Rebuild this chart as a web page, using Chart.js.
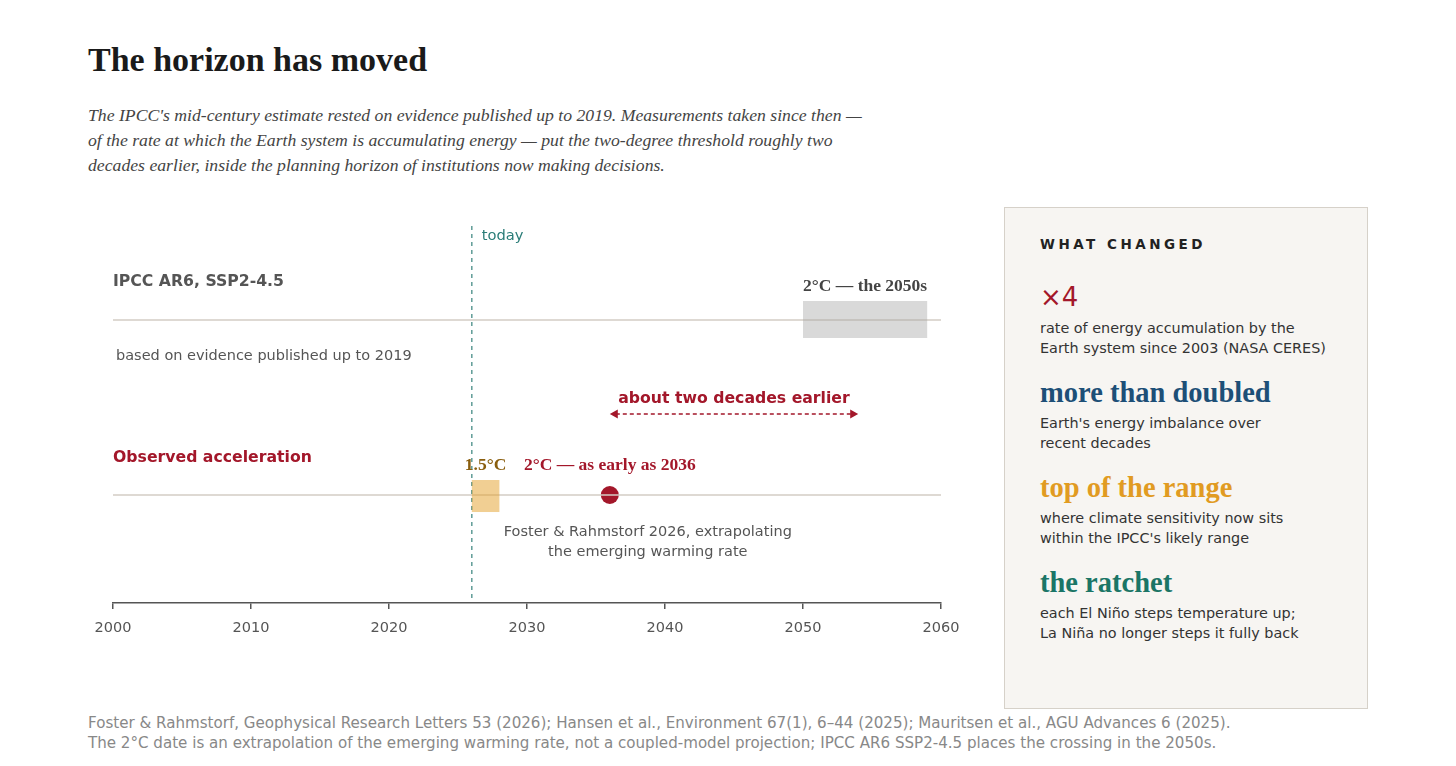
<!DOCTYPE html>
<html>
<head>
<meta charset="utf-8">
<script src="https://cdn.jsdelivr.net/npm/chart.js@4.4.1/dist/chart.umd.min.js"></script>
<style>
  html, body { margin: 0; padding: 0; background: #fff; }
  body { width: 1456px; height: 766px; position: relative; overflow: hidden; font-family: "DejaVu Sans", sans-serif; }
  #title { position: absolute; left: 88px; top: 38px; margin: 0; font: bold 34px "Liberation Serif", serif; color: #1a1a1a; line-height: 44px; }
  #dek { position: absolute; left: 88px; top: 103px; margin: 0; font: italic 17.7px "Liberation Serif", serif; color: #444; line-height: 25px; }
  #chartBox { position: absolute; left: 0; top: 200px; width: 990px; height: 460px; }
  #panel { position: absolute; left: 1004px; top: 207px; width: 364px; height: 502px; box-sizing: border-box;
    background: #f7f5f2; border: 1px solid #d6d1c9; padding: 26px 16px 0 35px; }
  #panel h3 { margin: 0; font: bold 13.5px "DejaVu Sans", sans-serif; letter-spacing: 3.5px; line-height: 20px; color: #222; }
  #panel .big { font: bold 28.5px "Liberation Serif", serif; line-height: 30px; margin-top: 19.5px; }
  #panel .big.first { margin-top: 28px; font: 26px "DejaVu Sans", sans-serif; }
  #panel .desc { font-size: 14.4px; line-height: 20px; color: #333; margin-top: 5.5px; }
  #panel .desc.first { margin-top: 6px; }
  #foot { position: absolute; left: 88px; top: 713px; font-size: 15.1px; line-height: 20px; color: #888; white-space: nowrap; }
</style>
</head>
<body>
<h1 id="title">The horizon has moved</h1>
<p id="dek">The IPCC's mid-century estimate rested on evidence published up to 2019. Measurements taken since then —<br>
of the rate at which the Earth system is accumulating energy — put the two-degree threshold roughly two<br>
decades earlier, inside the planning horizon of institutions now making decisions.</p>

<div id="chartBox"><canvas id="timeline"></canvas></div>

<div id="panel">
  <h3>WHAT CHANGED</h3>
  <div class="big first" style="color:#a3172a">×4</div>
  <div class="desc first">rate of energy accumulation by the<br>Earth system since 2003 (NASA CERES)</div>
  <div class="big" style="color:#1d4f77">more than doubled</div>
  <div class="desc">Earth's energy imbalance over<br>recent decades</div>
  <div class="big" style="color:#e19b22">top of the range</div>
  <div class="desc">where climate sensitivity now sits<br>within the IPCC's likely range</div>
  <div class="big" style="color:#1b7566">the ratchet</div>
  <div class="desc">each El Niño steps temperature up;<br>La Niña no longer steps it fully back</div>
</div>

<div id="foot">Foster &amp; Rahmstorf, Geophysical Research Letters 53 (2026); Hansen et al., Environment 67(1), 6–44 (2025); Mauritsen et al., AGU Advances 6 (2025).<br>
The 2°C date is an extrapolation of the emerging warming rate, not a coupled-model projection; IPCC AR6 SSP2-4.5 places the crossing in the 2050s.</div>

<script>
// Timeline values (years)
const axisYears = [2000, 2060];
const tickStep = 10;
const rowNames = ["IPCC AR6, SSP2-4.5", "Observed acceleration"];
const rowLevels = [2, 1];
const todayYear = 2026;
const ipccTwoDegree = [2050, 2059];
const observedOnePointFive = [2026, 2028];
const observedTwoDegree = 2036;
const shiftSpan = [2036, 2054];

const RED = "#a3172a";
const TEAL = "#2b7d78";
const yMin = 0.383, yMax = 2.537;

// Boxes, arrow and labels drawn on top of the datasets
const annotations = {
  id: "annotations",
  afterDatasetsDraw(chart) {
    const { ctx, scales: { x, y }, chartArea } = chart;
    const ipccY = y.getPixelForValue(rowLevels[0]);
    const obsY = y.getPixelForValue(rowLevels[1]);
    ctx.save();

    // range boxes
    ctx.fillStyle = "rgba(160,160,160,0.4)";
    ctx.fillRect(x.getPixelForValue(ipccTwoDegree[0]), ipccY - 19,
      x.getPixelForValue(ipccTwoDegree[1]) - x.getPixelForValue(ipccTwoDegree[0]), 37);
    ctx.fillStyle = "rgba(228,160,40,0.5)";
    ctx.fillRect(x.getPixelForValue(observedOnePointFive[0]), obsY - 15,
      x.getPixelForValue(observedOnePointFive[1]) - x.getPixelForValue(observedOnePointFive[0]), 32);

    // dashed double arrow
    const ax0 = x.getPixelForValue(shiftSpan[0]);
    const ax1 = x.getPixelForValue(shiftSpan[1]);
    const ay = obsY - 81;
    ctx.strokeStyle = RED;
    ctx.fillStyle = RED;
    ctx.lineWidth = 1.5;
    ctx.setLineDash([4, 3]);
    ctx.beginPath();
    ctx.moveTo(ax0 + 6, ay);
    ctx.lineTo(ax1 - 6, ay);
    ctx.stroke();
    ctx.setLineDash([]);
    ctx.beginPath();
    ctx.moveTo(ax0, ay); ctx.lineTo(ax0 + 8, ay - 4.5); ctx.lineTo(ax0 + 8, ay + 4.5); ctx.closePath();
    ctx.moveTo(ax1, ay); ctx.lineTo(ax1 - 8, ay - 4.5); ctx.lineTo(ax1 - 8, ay + 4.5); ctx.closePath();
    ctx.fill();

    // labels
    ctx.textBaseline = "middle";
    ctx.textAlign = "left";
    ctx.font = '14.7px "DejaVu Sans"';
    ctx.fillStyle = TEAL;
    ctx.fillText("today", x.getPixelForValue(todayYear) + 10, chartArea.top + 10);

    ctx.font = 'bold 15.7px "DejaVu Sans"';
    ctx.fillStyle = "#555";
    ctx.fillText(rowNames[0], chartArea.left, ipccY - 38);
    ctx.fillStyle = RED;
    ctx.fillText(rowNames[1], chartArea.left, obsY - 37);

    ctx.font = '14.5px "DejaVu Sans"';
    ctx.fillStyle = "#555";
    ctx.fillText("based on evidence published up to 2019", chartArea.left + 3, ipccY + 36);

    ctx.textAlign = "center";
    const noteX = x.getPixelForValue(observedTwoDegree) + 38;
    ctx.fillText("Foster & Rahmstorf 2026, extrapolating", noteX, obsY + 37);
    ctx.fillText("the emerging warming rate", noteX, obsY + 57);

    ctx.font = 'bold 15.7px "DejaVu Sans"';
    ctx.fillStyle = RED;
    ctx.fillText("about two decades earlier", (ax0 + ax1) / 2, ay - 15);

    ctx.font = 'bold 17.5px "Liberation Serif"';
    ctx.fillStyle = "#444";
    ctx.fillText("2°C — the 2050s", (x.getPixelForValue(ipccTwoDegree[0]) + x.getPixelForValue(ipccTwoDegree[1])) / 2, ipccY - 34);
    ctx.fillStyle = "#8a5e0e";
    ctx.fillText("1.5°C", (x.getPixelForValue(observedOnePointFive[0]) + x.getPixelForValue(observedOnePointFive[1])) / 2, obsY - 30);
    ctx.fillStyle = RED;
    ctx.fillText("2°C — as early as 2036", x.getPixelForValue(observedTwoDegree), obsY - 30);

    ctx.restore();
  },
};

new Chart(document.getElementById("timeline"), {
  type: "line",
  data: {
    datasets: [
      {
        data: [{ x: axisYears[0], y: rowLevels[0] }, { x: axisYears[1], y: rowLevels[0] }],
        borderColor: "#d3cdc5",
        borderWidth: 1.5,
        pointRadius: 0,
      },
      {
        data: [{ x: axisYears[0], y: rowLevels[1] }, { x: axisYears[1], y: rowLevels[1] }],
        borderColor: "#d3cdc5",
        borderWidth: 1.5,
        pointRadius: 0,
      },
      {
        data: [{ x: todayYear, y: yMax }, { x: todayYear, y: yMin + 0.02 }],
        borderColor: "#5f9c97",
        borderWidth: 1.5,
        borderDash: [4, 4],
        pointRadius: 0,
      },
      {
        type: "scatter",
        data: [{ x: observedTwoDegree, y: rowLevels[1] }],
        pointRadius: 9,
        pointBackgroundColor: RED,
        pointBorderColor: RED,
        pointBorderWidth: 0,
      },
    ],
  },
  options: {
    responsive: true,
    maintainAspectRatio: false,
    animation: false,
    events: [],
    layout: { padding: { left: 113, right: 49, top: 26, bottom: 17 } },
    plugins: { legend: { display: false }, tooltip: { enabled: false } },
    scales: {
      x: {
        type: "linear",
        min: axisYears[0],
        max: axisYears[1],
        afterFit: (scale) => { scale.height = 40; },
        border: { display: true, color: "#555", width: 1.5 },
        grid: { drawOnChartArea: false, drawTicks: true, tickLength: 6, color: "#555", lineWidth: 1.5 },
        ticks: {
          stepSize: tickStep,
          padding: 11,
          color: "#555",
          font: { family: "DejaVu Sans", size: 14.5 },
          callback: (v) => String(v),
        },
      },
      y: { type: "linear", min: yMin, max: yMax, display: false },
    },
  },
  plugins: [annotations],
});
</script>
</body>
</html>
